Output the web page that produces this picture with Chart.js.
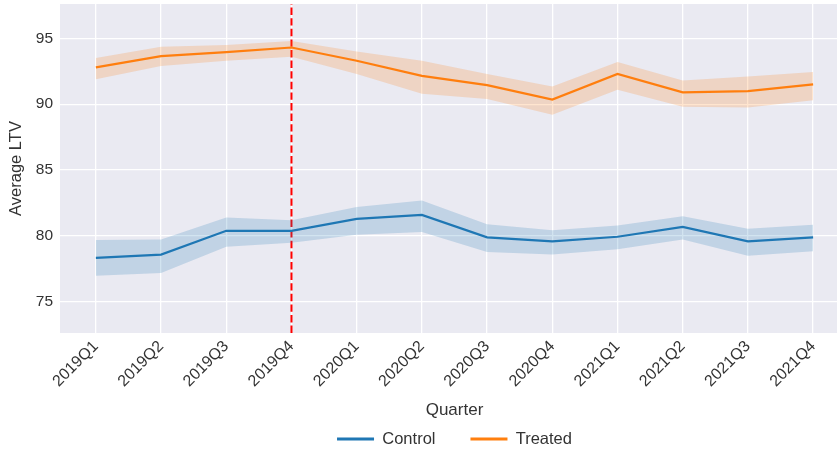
<!DOCTYPE html>
<html>
<head>
<meta charset="utf-8">
<script src="https://cdn.jsdelivr.net/npm/chart.js@4/dist/chart.umd.min.js"></script>
<style>
  html, body { margin: 0; padding: 0; overflow: hidden; background: #ffffff; width: 837px; height: 452px; }
  #wrap { position: absolute; left: 0; top: 0; width: 851px; height: 452px; }
</style>
</head>
<body>
<div id="wrap"><canvas id="c" width="851" height="452"></canvas></div>
<script>
const quarters = ['2019Q1','2019Q2','2019Q3','2019Q4','2020Q1','2020Q2','2020Q3','2020Q4','2021Q1','2021Q2','2021Q3','2021Q4'];
const controlMean  = [78.35, 78.6, 80.4, 80.4, 81.3, 81.6, 79.9, 79.6, 79.95, 80.7, 79.6, 79.9];
const controlUpper = [79.7, 79.75, 81.4, 81.2, 82.2, 82.7, 80.9, 80.45, 80.8, 81.5, 80.55, 80.85];
const controlLower = [77.0, 77.2, 79.2, 79.5, 80.1, 80.3, 78.8, 78.6, 79.0, 79.75, 78.5, 78.85];
const treatedMean  = [92.8, 93.65, 93.95, 94.3, 93.3, 92.15, 91.45, 90.35, 92.3, 90.9, 91.0, 91.5];
const treatedUpper = [93.5, 94.35, 94.5, 94.8, 94.0, 93.3, 92.3, 91.35, 93.2, 91.8, 92.1, 92.45];
const treatedLower = [91.9, 92.9, 93.3, 93.6, 92.3, 90.8, 90.4, 89.2, 91.1, 89.8, 89.75, 90.3];
const yTicks = [75, 80, 85, 90, 95];
const treatmentQuarter = '2019Q4';
const seriesNames = ['Control', 'Treated'];

const FONT = '"Liberation Sans", Arial, sans-serif';
const TEXT = '#333333';
const BLUE = '#1f77b4', ORANGE = '#ff7f0e';
const Y_MIN = 72.65, Y_MAX = 97.6;

const pts = arr => arr.map((v, i) => ({x: i, y: v}));
const tIdx = quarters.indexOf(treatmentQuarter);

const bgPlugin = {
  id: 'bg',
  beforeDraw(chart) {
    const {ctx, chartArea: a} = chart;
    ctx.save();
    ctx.fillStyle = '#eaeaf2';
    ctx.fillRect(a.left, a.top, a.right - a.left, a.bottom - a.top);
    ctx.restore();
  }
};

new Chart(document.getElementById('c'), {
  type: 'line',
  data: {
    datasets: [
      { label: 'cu', data: pts(controlUpper), borderWidth: 0, pointRadius: 0, fill: '+1', backgroundColor: 'rgba(31,119,180,0.2)', borderColor: 'rgba(0,0,0,0)' },
      { label: 'cl', data: pts(controlLower), borderWidth: 0, pointRadius: 0, fill: false, borderColor: 'rgba(0,0,0,0)' },
      { label: 'tu', data: pts(treatedUpper), borderWidth: 0, pointRadius: 0, fill: '+1', backgroundColor: 'rgba(255,127,14,0.2)', borderColor: 'rgba(0,0,0,0)' },
      { label: 'tl', data: pts(treatedLower), borderWidth: 0, pointRadius: 0, fill: false, borderColor: 'rgba(0,0,0,0)' },
      { label: seriesNames[0], data: pts(controlMean), borderColor: BLUE, backgroundColor: BLUE, borderWidth: 2.2, pointRadius: 0, fill: false },
      { label: seriesNames[1], data: pts(treatedMean), borderColor: ORANGE, backgroundColor: ORANGE, borderWidth: 2.2, pointRadius: 0, fill: false },
      { label: 'vline', data: [{x: tIdx, y: Y_MIN}, {x: tIdx, y: Y_MAX}], borderColor: '#ff0000', borderWidth: 2, borderDash: [7.4, 3.2], pointRadius: 0, fill: false }
    ]
  },
  options: {
    responsive: false,
    animation: false,
    layout: { padding: { top: 4, left: 0, right: 2, bottom: -5.25 } },
    plugins: {
      tooltip: { enabled: false },
      legend: {
        position: 'bottom',
        fullSize: false,
        labels: {
          filter: item => seriesNames.includes(item.text),
          generateLabels(chart) {
            const items = Chart.defaults.plugins.legend.labels.generateLabels(chart);
            return items.map(it => Object.assign(it, { lineWidth: 0 }));
          },
          boxWidth: 37,
          boxHeight: 3,
          padding: 35,
          color: TEXT,
          font: { family: FONT, size: 16.5 }
        }
      }
    },
    scales: {
      x: {
        type: 'linear',
        min: -0.55,
        max: 11.55,
        afterBuildTicks(scale) { scale.ticks = quarters.map((q, i) => ({ value: i })); },
        afterFit(scale) { scale.height = 62.75; scale.paddingLeft = 0; scale.paddingRight = 0; },
        ticks: {
          autoSkip: false,
          minRotation: 45,
          maxRotation: 45,
          padding: 4,
          color: TEXT,
          font: { family: FONT, size: 16 },
          callback: v => quarters[v]
        },
        grid: { color: '#ffffff', lineWidth: 1.3, drawTicks: false },
        border: { display: false },
        title: { display: true, text: 'Quarter', color: TEXT, font: { family: FONT, size: 17 }, padding: { top: 0, bottom: -24.45 } }
      },
      y: {
        min: Y_MIN,
        max: Y_MAX,
        afterBuildTicks(scale) { scale.ticks = yTicks.map(v => ({ value: v })); },
        afterFit(scale) { scale.width = 60; scale.paddingTop = 0; scale.paddingBottom = 0; },
        ticks: { padding: 7, color: TEXT, font: { family: FONT, size: 15.5 } },
        grid: { color: '#ffffff', lineWidth: 1.3, drawTicks: false },
        border: { display: false },
        title: { display: true, text: 'Average LTV', color: TEXT, font: { family: FONT, size: 16.5 }, padding: { top: 7, bottom: 0 } }
      }
    }
  },
  plugins: [bgPlugin]
});
</script>
</body>
</html>
